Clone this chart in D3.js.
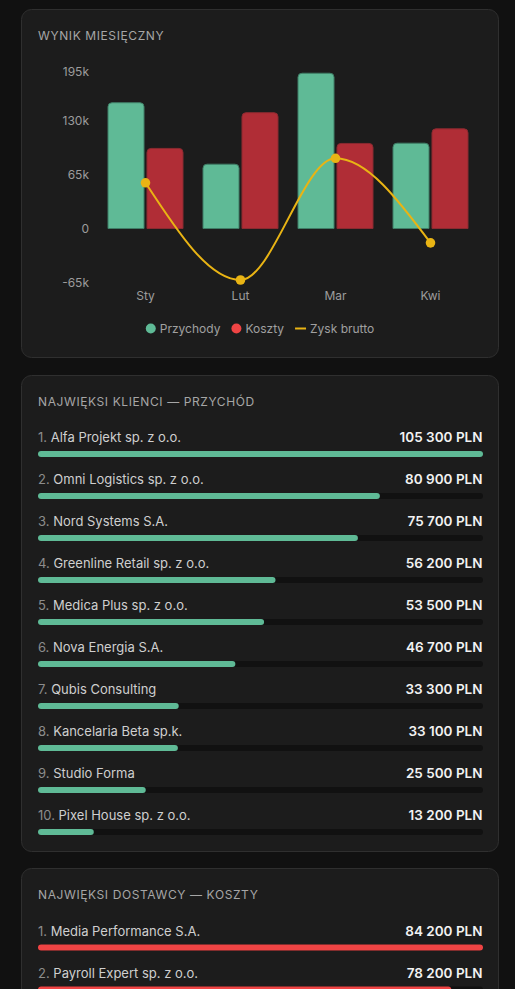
<!DOCTYPE html>
<html>
<head>
<meta charset="utf-8">
<script src="https://cdn.jsdelivr.net/npm/d3@7"></script>
<style>
  html, body { margin: 0; padding: 0; background: #111111; }
  body { width: 515px; height: 989px; overflow: hidden; font-family: Inter, "Noto Sans", sans-serif; }
  svg text { font-family: Inter, "Noto Sans", sans-serif; }
</style>
</head>
<body>
<svg id="page" width="515" height="989"></svg>
<script>
// monthly result
const months = ['Sty', 'Lut', 'Mar', 'Kwi'];
const revenue = [152000, 78000, 187500, 103300];
const costs = [97000, 140000, 103000, 120600];
const profit = [55000, -62000, 84500, -17300];
const yTicks = [-65000, 0, 65000, 130000, 195000];

// top clients
const clientNames = ['Alfa Projekt sp. z o.o.', 'Omni Logistics sp. z o.o.', 'Nord Systems S.A.',
  'Greenline Retail sp. z o.o.', 'Medica Plus sp. z o.o.', 'Nova Energia S.A.', 'Qubis Consulting',
  'Kancelaria Beta sp.k.', 'Studio Forma', 'Pixel House sp. z o.o.'];
const clientValues = [105300, 80900, 75700, 56200, 53500, 46700, 33300, 33100, 25500, 13200];

// top suppliers
const supplierNames = ['Media Performance S.A.', 'Payroll Expert sp. z o.o.'];
const supplierValues = [84200, 78200];

const GREEN = '#5fba96', RED = '#ef4444', YELLOW = '#e9b414';
const fmtPLN = v => d3.format(',')(v).replace(/,/g, ' ') + ' PLN';
const fmtK = v => v === 0 ? '0' : (v / 1000) + 'k';

const svg = d3.select('#page');

function card(y, h) {
  svg.append('rect')
    .attr('x', 21.5).attr('y', y + 0.5)
    .attr('width', 477).attr('height', h)
    .attr('rx', 10)
    .attr('fill', '#1c1c1c')
    .attr('stroke', '#2f2f2f');
}

function title(y, txt) {
  svg.append('text')
    .attr('x', 38).attr('y', y)
    .attr('font-size', 12)
    .attr('letter-spacing', 0.6)
    .attr('fill', '#a6a6a6')
    .text(txt);
}

// ---- card 1: bar + line chart
card(9, 348);
title(39.5, 'WYNIK MIESIĘCZNY');

const y = d3.scaleLinear().domain([-65000, 195000]).range([282.5, 66.5]);
const x0 = d3.scaleBand().domain(months).range([98, 478]).paddingInner(0.2).paddingOuter(0.1);
const x1 = d3.scaleBand().domain(['rev', 'cost']).range([0, x0.bandwidth()]).paddingInner(0.05);

const yAxis = svg.append('g').attr('transform', 'translate(89,0)')
  .call(d3.axisLeft(y).tickValues(yTicks).tickFormat(fmtK).tickSize(0).tickPadding(0));
yAxis.select('.domain').remove();
yAxis.selectAll('text').attr('font-size', 12).attr('fill', '#9c9c9c').attr('dy', '0.35em')
  .style('font-family', 'Inter, sans-serif');
// top label is kept inside the plot area
yAxis.selectAll('.tick').filter(d => y(d) < 71)
  .select('text').attr('y', d => 71 - y(d));

const xAxis = svg.append('g').attr('transform', 'translate(0,291.5)')
  .call(d3.axisBottom(x0).tickSize(0).tickPadding(0));
xAxis.select('.domain').remove();
xAxis.selectAll('text').attr('font-size', 12).attr('fill', '#9c9c9c').attr('dy', '0.71em')
  .style('font-family', 'Inter, sans-serif');

// bar with rounded top corners
function topRounded(x, yTop, w, h, r) {
  r = Math.min(r, h, w / 2);
  return `M${x},${yTop + h}V${yTop + r}Q${x},${yTop} ${x + r},${yTop}H${x + w - r}Q${x + w},${yTop} ${x + w},${yTop + r}V${yTop + h}Z`;
}

const series = [
  { key: 'rev', values: revenue, fill: GREEN, stroke: '#3f7d66' },
  { key: 'cost', values: costs, fill: '#b02d36', stroke: '#8a2a30' }
];

const groups = svg.append('g').selectAll('g')
  .data(months)
  .join('g')
  .attr('transform', d => `translate(${x0(d)},0)`);

groups.selectAll('path')
  .data((m, i) => series.map(s => ({ key: s.key, value: s.values[i], fill: s.fill, stroke: s.stroke })))
  .join('path')
  .attr('d', d => topRounded(x1(d.key) + 0.5, y(d.value) + 0.5, x1.bandwidth() - 1, y(0) - y(d.value) - 0.5, 4))
  .attr('fill', d => d.fill)
  .attr('stroke', d => d.stroke)
  .attr('stroke-width', 1);

const profitPts = months.map((m, i) => ({ m, v: profit[i] }));
const line = d3.line()
  .x(d => x0(d.m) + x0.bandwidth() / 2)
  .y(d => y(d.v))
  .curve(d3.curveMonotoneX);

svg.append('path')
  .datum(profitPts)
  .attr('d', line)
  .attr('fill', 'none')
  .attr('stroke', YELLOW)
  .attr('stroke-width', 2);

svg.append('g').selectAll('circle')
  .data(profitPts)
  .join('circle')
  .attr('cx', d => x0(d.m) + x0.bandwidth() / 2)
  .attr('cy', d => y(d.v))
  .attr('r', 4.8)
  .attr('fill', YELLOW);

// legend
const legendItems = [
  { label: 'Przychody', type: 'dot', color: GREEN },
  { label: 'Koszty', type: 'dot', color: RED },
  { label: 'Zysk brutto', type: 'line', color: YELLOW }
];
const legend = svg.append('g');
let lx = 0;
legendItems.forEach((it, i) => {
  const g = legend.append('g').attr('transform', `translate(${lx},0)`);
  if (it.type === 'dot') {
    g.append('circle').attr('cx', 5).attr('cy', 0).attr('r', 5).attr('fill', it.color);
  } else {
    g.append('line').attr('x1', 0).attr('x2', 11).attr('y1', 0).attr('y2', 0)
      .attr('stroke', it.color).attr('stroke-width', 2);
  }
  const swatchW = it.type === 'dot' ? 10 : 11;
  const t = g.append('text')
    .attr('x', swatchW + 4).attr('y', 0).attr('dy', '0.35em')
    .attr('font-size', 12).attr('fill', '#a0a0a0')
    .text(it.label);
  lx += swatchW + 4 + t.node().getComputedTextLength() + 11;
});
lx -= 11;
legend.attr('transform', `translate(${260 - lx / 2},328.5)`);

// ---- ranking lists
function rankList(top, names, values, color) {
  const w = d3.scaleLinear().domain([0, d3.max(values)]).range([0, 445]);
  const rows = svg.append('g').selectAll('g')
    .data(names.map((n, i) => ({ n, v: values[i], i })))
    .join('g')
    .attr('transform', d => `translate(0,${top + d.i * 42})`);

  const lbl = rows.append('text')
    .attr('x', 38).attr('y', 0).attr('dy', '0.35em')
    .attr('font-size', 13);
  lbl.append('tspan').attr('fill', '#8c8c8c').text(d => (d.i + 1) + '. ');
  lbl.append('tspan').attr('fill', '#cfcfcf').text(d => d.n);

  rows.append('text')
    .attr('x', 482.5).attr('y', 0).attr('dy', '0.35em')
    .attr('text-anchor', 'end')
    .attr('font-size', 13.5).attr('font-weight', 600)
    .attr('fill', '#f2f2f2')
    .text(d => fmtPLN(d.v));

  rows.append('rect')
    .attr('x', 38).attr('y', 13.5)
    .attr('width', 445).attr('height', 6).attr('rx', 3)
    .attr('fill', '#111111');

  rows.append('rect')
    .attr('x', 38).attr('y', 13.5)
    .attr('width', d => w(d.v)).attr('height', 6).attr('rx', 3)
    .attr('fill', color);
}

card(375, 476);
title(405.5, 'NAJWIĘKSI KLIENCI — PRZYCHÓD');
rankList(437.5, clientNames, clientValues, GREEN);

card(868, 200);
title(899, 'NAJWIĘKSI DOSTAWCY — KOSZTY');
rankList(931, supplierNames, supplierValues, RED);
</script>
</body>
</html>
